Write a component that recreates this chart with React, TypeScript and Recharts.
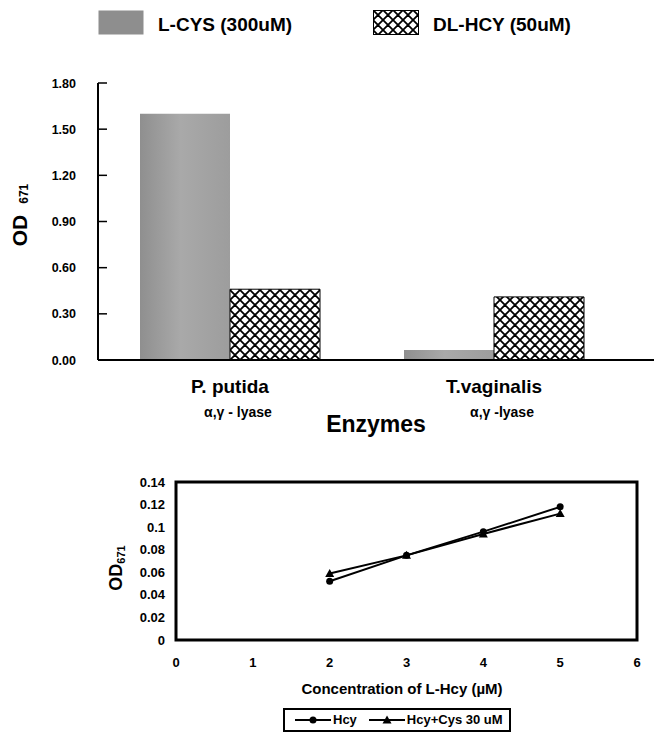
import {
  BarChart,
  Bar,
  LineChart,
  Line,
  XAxis,
  YAxis,
  Legend,
  ReferenceArea,
} from "recharts";

const FONT = '"Liberation Sans", Arial, Helvetica, sans-serif';

// enzyme activity (top panel)
const enzymes = ["P. putida", "T.vaginalis"];
const enzymeSubtitles = ["α,γ - lyase", "α,γ -lyase"];
const lCysOd = [1.6, 0.065];
const dlHcyOd = [0.46, 0.41];
const barOdTicks = [0, 0.3, 0.6, 0.9, 1.2, 1.5, 1.8];
const barSeriesNames = ["L-CYS (300uM)", "DL-HCY (50uM)"];

// L-Hcy dose response (bottom panel)
const hcyConc = [2, 3, 4, 5];
const hcyOd = [0.052, 0.075, 0.096, 0.118];
const hcyCysOd = [0.059, 0.075, 0.094, 0.112];
const concTicks = [0, 1, 2, 3, 4, 5, 6];
const lineOdTicks = [0, 0.02, 0.04, 0.06, 0.08, 0.1, 0.12, 0.14];
const lineSeriesNames = ["Hcy", "Hcy+Cys 30 uM"];

const barData = enzymes.map((enzyme, i) => ({
  enzyme,
  subtitle: enzymeSubtitles[i],
  lCys: lCysOd[i],
  dlHcy: dlHcyOd[i],
}));

const lineData = hcyConc.map((conc, i) => ({
  conc,
  hcy: hcyOd[i],
  hcyCys: hcyCysOd[i],
}));

const PatternDefs = ({ id }: { id: string }) => (
  <defs>
    <pattern id={`${id}-lattice`} width="10" height="10" patternUnits="userSpaceOnUse">
      <rect width="10" height="10" fill="#fff" />
      <path d="M0,0 L10,10 M10,0 L0,10 M-5,5 L5,15 M5,-5 L15,5 M5,-5 L-5,5 M15,5 L5,15" stroke="#000" strokeWidth={1.8} />
    </pattern>
    <linearGradient id={`${id}-gray`} x1="0" y1="0" x2="1" y2="0">
      <stop offset="0%" stopColor="#8f8f8f" />
      <stop offset="45%" stopColor="#a9a9a9" />
      <stop offset="100%" stopColor="#9d9d9d" />
    </linearGradient>
  </defs>
);

// tick label on the left, short tick mark pointing into the plot
const OdTick = (props: any) => {
  const { x, y, payload } = props;
  return (
    <g>
      {payload.value > 0 && (
        <line x1={x + 22} x2={x + 31} y1={y} y2={y} stroke="#000" strokeWidth={1.5} />
      )}
      <text x={x} y={y} dy="0.36em" textAnchor="end" fontFamily={FONT} fontWeight="bold" fontSize={12.5} fill="#000">
        {payload.value.toFixed(2)}
      </text>
    </g>
  );
};

const EnzymeTick = (props: any) => {
  const { x, y, index, payload } = props;
  return (
    <g fontFamily={FONT} fontWeight="bold" fill="#000">
      <text x={x} y={y + 31} textAnchor="middle" fontSize={19}>
        {payload.value}
      </text>
      <text x={x + 8} y={y + 55} textAnchor="middle" fontSize={14}>
        {enzymeSubtitles[index]}
      </text>
    </g>
  );
};

const EnzymesLabel = ({ viewBox }: any) => (
  <text x={viewBox.x + viewBox.width / 2} y={viewBox.y + 72} textAnchor="middle" fontFamily={FONT} fontWeight="bold" fontSize={23} fill="#000">
    Enzymes
  </text>
);

const BarOdLabel = ({ viewBox }: any) => {
  const cx = viewBox.x + 27;
  const cy = viewBox.y + 132;
  return (
    <text x={cx} y={cy} transform={`rotate(-90 ${cx} ${cy})`} textAnchor="middle" fontFamily={FONT} fontWeight="bold" fontSize={21} fill="#000">
      OD
      <tspan dx={11} dy={1} fontSize={12}>
        671
      </tspan>
    </text>
  );
};

const BarLegend = () => (
  <div style={{ display: "flex", paddingLeft: 98, fontFamily: FONT, fontWeight: "bold", fontSize: 19 }}>
    {barSeriesNames.map((name, i) => (
      <div key={name} style={{ width: 275, display: "flex", alignItems: "flex-end", gap: 14 }}>
        <svg width={46} height={25} style={{ display: "block" }}>
          <PatternDefs id={`leg${i}`} />
          <rect
            x={0.5}
            y={0.5}
            width={45}
            height={24}
            fill={i === 0 ? "#8e8e8e" : `url(#leg${i}-lattice)`}
            stroke={i === 0 ? "none" : "#000"}
          />
        </svg>
        <span style={{ lineHeight: "20px" }}>{name}</span>
      </div>
    ))}
  </div>
);

const ConcLabel = ({ viewBox }: any) => (
  <text x={402} y={viewBox.y + 54} textAnchor="middle" fontFamily={FONT} fontWeight="bold" fontSize={15} fill="#000">
    Concentration of L-Hcy (µM)
  </text>
);

const LineOdLabel = ({ viewBox }: any) => {
  const cx = viewBox.x + 122;
  const cy = viewBox.y + 86;
  return (
    <text x={cx} y={cy} transform={`rotate(-90 ${cx} ${cy})`} textAnchor="middle" fontFamily={FONT} fontWeight="bold" fontSize={18} fill="#000">
      OD
      <tspan dy={3} fontSize={11}>
        671
      </tspan>
    </text>
  );
};

const TriangleDot = (props: any) => {
  const { cx, cy } = props;
  if (cx == null || cy == null) return null;
  return <path d={`M${cx},${cy - 4.5} L${cx + 4.5},${cy + 3.5} L${cx - 4.5},${cy + 3.5} Z`} fill="#000" />;
};

const LineLegend = () => (
  <div
    style={{
      display: "inline-flex",
      alignItems: "center",
      border: "2px solid #000",
      padding: "2px 6px 2px 10px",
      fontFamily: FONT,
      fontWeight: "bold",
      fontSize: 13,
      gap: 4,
    }}
  >
    {lineSeriesNames.map((name, i) => (
      <div key={name} style={{ display: "flex", alignItems: "center", marginRight: i === 0 ? 8 : 0 }}>
        <svg width={36} height={12} style={{ display: "block" }}>
          <line x1={0} x2={36} y1={6} y2={6} stroke="#000" strokeWidth={2} />
          {i === 0 ? (
            <circle cx={18} cy={6} r={3.5} fill="#000" />
          ) : (
            <path d="M18,1.5 L22.5,9.5 L13.5,9.5 Z" fill="#000" />
          )}
        </svg>
        <span style={{ lineHeight: "16px", marginLeft: 2 }}>{name}</span>
      </div>
    ))}
  </div>
);

const axisLine = { stroke: "#000", strokeWidth: 2 };

export default function App() {
  return (
    <div style={{ position: "absolute", left: 0, top: 0, width: 655, height: 733, background: "#fff" }}>
      <div style={{ position: "absolute", left: 0, top: 0 }}>
        <BarChart width={655} height={440} data={barData} margin={{ top: 83, right: 1, left: 0, bottom: 0 }} barGap={0} barSize={90}>
          <PatternDefs id="bar" />
          <XAxis
            dataKey="enzyme"
            height={80}
            interval={0}
            padding={{ left: 0, right: 28 }}
            axisLine={axisLine}
            tickLine={false}
            tickSize={0}
            tick={<EnzymeTick />}
            label={{ content: EnzymesLabel }}
          />
          <XAxis xAxisId="top" orientation="top" dataKey="enzyme" height={0} tick={false} tickLine={false} axisLine={axisLine} />
          <YAxis
            width={98}
            domain={[0, 1.8]}
            ticks={barOdTicks}
            interval={0}
            axisLine={axisLine}
            tickLine={false}
            tickSize={0}
            tickMargin={22}
            tick={<OdTick />}
            label={{ content: BarOdLabel }}
          />
          <YAxis yAxisId="right" orientation="right" width={0} tick={false} tickLine={false} axisLine={axisLine} />
          <Bar dataKey="lCys" name={barSeriesNames[0]} fill="url(#bar-gray)" isAnimationActive={false} />
          <Bar dataKey="dlHcy" name={barSeriesNames[1]} fill="url(#bar-lattice)" stroke="#000" strokeWidth={1} isAnimationActive={false} />
          <Legend
            layout="horizontal"
            align="center"
            verticalAlign="middle"
            content={<BarLegend />}
            wrapperStyle={{ position: "absolute", left: 0, top: 10, width: 655 }}
          />
        </BarChart>
      </div>

      <div style={{ position: "absolute", left: 0, top: 460 }}>
        <LineChart width={655} height={273} data={lineData} margin={{ top: 22, right: 18, left: 0, bottom: 0 }}>
          <XAxis
            dataKey="conc"
            type="number"
            domain={[0, 6]}
            ticks={concTicks}
            interval={0}
            height={93}
            axisLine={false}
            tickLine={false}
            tickSize={0}
            tickMargin={18}
            tick={{ fontFamily: FONT, fontWeight: "bold", fontSize: 13, fill: "#000" }}
            label={{ content: ConcLabel }}
          />
          <YAxis
            width={176}
            domain={[0, 0.14]}
            ticks={lineOdTicks}
            interval={0}
            axisLine={false}
            tickLine={false}
            tickSize={0}
            tickMargin={11}
            tick={{ fontFamily: FONT, fontWeight: "bold", fontSize: 13, fill: "#000" }}
            label={{ content: LineOdLabel }}
          />
          <ReferenceArea x1={0} x2={6} y1={0} y2={0.14} fill="none" fillOpacity={0} stroke="#000" strokeWidth={3} />
          <Line
            dataKey="hcy"
            name={lineSeriesNames[0]}
            stroke="#000"
            strokeWidth={2}
            dot={{ r: 3.5, fill: "#000", stroke: "none" }}
            isAnimationActive={false}
          />
          <Line
            dataKey="hcyCys"
            name={lineSeriesNames[1]}
            stroke="#000"
            strokeWidth={2}
            dot={<TriangleDot />}
            isAnimationActive={false}
          />
          <Legend
            layout="horizontal"
            align="center"
            verticalAlign="middle"
            content={<LineLegend />}
            wrapperStyle={{ position: "absolute", left: 283, top: 248, width: "auto" }}
          />
        </LineChart>
      </div>
    </div>
  );
}
